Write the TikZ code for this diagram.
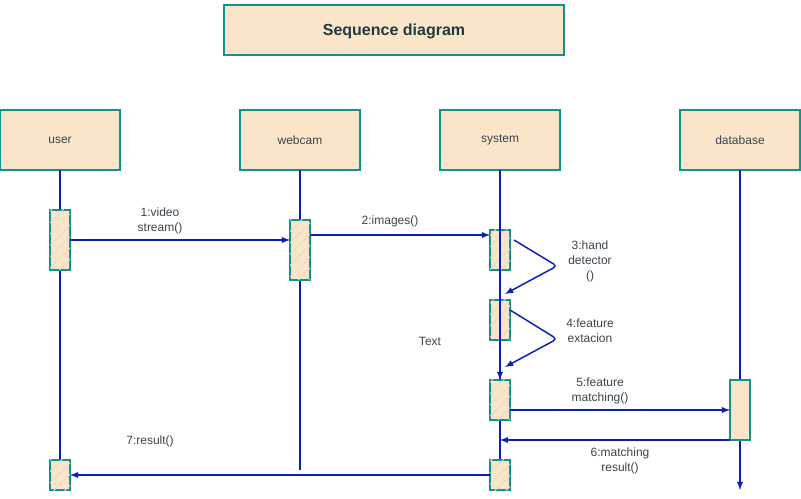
\documentclass[tikz,border=0pt]{standalone}
\usepackage{fontspec}
\setmainfont{Liberation Sans}
\usetikzlibrary{positioning,arrows,calc,patterns.meta}
\definecolor{boxfill}{HTML}{FAE5C8}
\definecolor{boxline}{HTML}{13918B}
\definecolor{msgline}{HTML}{0A1FB5}
\definecolor{txtcol}{HTML}{3A444C}
\definecolor{titlecol}{HTML}{233845}
\definecolor{hatchcol}{HTML}{E2DCD2}
\begin{document}
\begin{tikzpicture}[x=0.75pt,y=-0.75pt,line width=1.1pt,>=latex,
  head/.style={draw=boxline,fill=boxfill,minimum width=90pt,minimum height=45pt,outer sep=0pt,text=txtcol,font=\fontsize{9}{11.25}\selectfont},
  act/.style={draw=boxline,fill=boxfill,minimum width=15pt,inner sep=0pt,outer sep=0pt,
    postaction={pattern={Lines[angle=45,distance=6pt,line width=0.6pt]},pattern color=hatchcol}},
  life/.style={msgline},
  msg/.style={->,msgline},
  lbl/.style={text=txtcol,align=center,font=\fontsize{9}{11.25}\selectfont}]
\useasboundingbox (0,0) rectangle (801,499);
\node[draw=boxline,fill=boxfill,minimum width=255pt,minimum height=37.5pt,text depth=-1.5pt,text=titlecol,font=\fontsize{12}{14}\selectfont\bfseries] (title) at (394,30) {Sequence diagram};

\node[head] (user) at (60,140) {user};
\node[head,right=90pt of user] (webcam) {webcam};
\node[head,right=60pt of webcam] (system) {system};
\node[head,right=90pt of system] (database) {database};

\coordinate (userend) at (60,475);
\coordinate (webcamend) at (300,470);
\coordinate (systemend) at (500,475);
\coordinate (dbend) at (740,490);

\draw[life] (user.south) -- (userend);
\draw[life] (webcam.south) -- (webcamend);
\draw[life] (system.south) -- (systemend);
\draw[life,->] (database.south) -- (dbend);

\node[act,minimum height=45pt] (u1) at (60,240) {};
\node[act,minimum height=22.5pt] (u2) at (60,475) {};
\node[act,minimum height=45pt] (w1) at (300,250) {};
\node[act,minimum height=30pt] (s1) at (500,250) {};
\node[act,minimum height=30pt] (s2) at (500,320) {};
\node[act,minimum height=30pt] (s3) at (500,400) {};
\node[act,minimum height=22.5pt] (s4) at (500,475) {};
\node[draw=boxline,fill=boxfill,minimum width=15pt,minimum height=45pt,inner sep=0pt,outer sep=0pt] (d1) at (740,410) {};

\draw[life,->] (system.south) -- (s3.north);

\coordinate (imgout) at ($(w1.north east)!0.25!(w1.south east)$);
\coordinate (matchout) at ($(s3.north east)!0.75!(s3.south east)$);

\draw[msg] (u1.east) -- (u1.east -| w1.west);
\draw[msg] (imgout) -- (imgout -| s1.west);
\draw[msg,rounded corners=3pt] ($(s1.north east)+(4,10)$) -- ($(s1.north east)+(47,36)$) -- ($(s2.north)+(5,-6)$);
\draw[msg,rounded corners=3pt] ($(s2.north east)+(0,10)$) -- ($(s2.north east)+(47,39)$) -- ($(s3.north)+(5,-13)$);
\draw[msg] (matchout) -- (matchout -| d1.west);
\draw[msg] (d1.south west) -- (d1.south west -| s3.south);
\draw[msg] (s4.west) -- (s4.west -| u2.east);

\node[lbl] (m1) at (160,221) {1:video\\stream()};
\node[lbl] (m2) at (390,221) {2:images()};
\node[lbl] (m3) at (590,261) {3:hand\\detector\\()};
\node[lbl] (m4) at (590,331) {4:feature\\extacion};
\node[lbl] (note) at (430,341) {Text};
\node[lbl] (m5) at (600,391) {5:feature\\matching()};
\node[lbl] (m6) at (620,461) {6:matching\\result()};
\node[lbl] (m7) at (150,441) {7:result()};
\end{tikzpicture}
\end{document}
